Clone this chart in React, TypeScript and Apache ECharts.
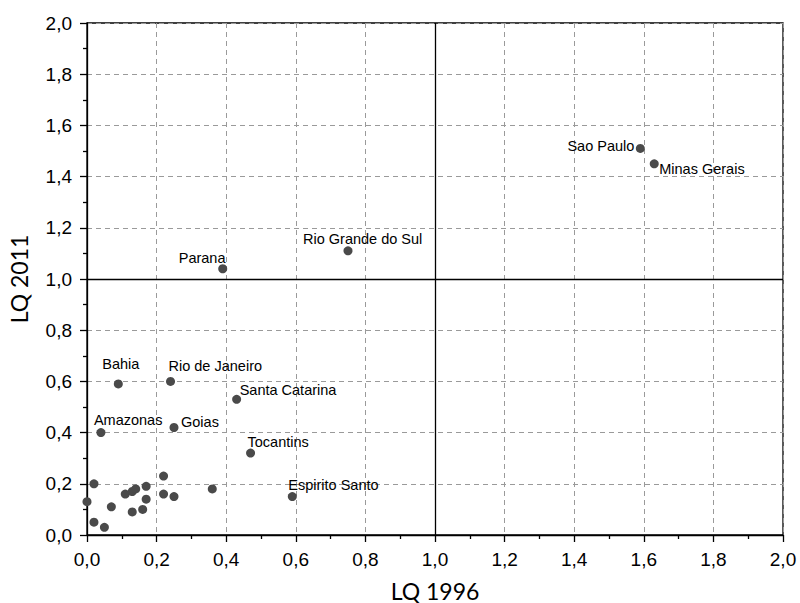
import React, { useEffect, useRef } from "react";
import * as echarts from "echarts";

const names = [
  "Sao Paulo", "Minas Gerais", "Rio Grande do Sul", "Parana", "Bahia", "Rio de Janeiro",
  "Santa Catarina", "Amazonas", "Goias", "Tocantins", "Espirito Santo",
  "", "", "", "", "", "", "", "", "", "", "", "", "", "", "", "",
];
const lq1996 = [
  1.59, 1.63, 0.75, 0.39, 0.09, 0.24,
  0.43, 0.04, 0.25, 0.47, 0.59,
  0.0, 0.02, 0.02, 0.05, 0.07, 0.11, 0.13, 0.14, 0.13, 0.16, 0.17, 0.17, 0.22, 0.22, 0.25, 0.36,
];
const lq2011 = [
  1.51, 1.45, 1.11, 1.04, 0.59, 0.6,
  0.53, 0.4, 0.42, 0.32, 0.15,
  0.13, 0.2, 0.05, 0.03, 0.11, 0.16, 0.17, 0.18, 0.09, 0.1, 0.19, 0.14, 0.23, 0.16, 0.15, 0.18,
];
const axisTicks = [0, 0.2, 0.4, 0.6, 0.8, 1.0, 1.2, 1.4, 1.6, 1.8, 2.0];

// label placement (offset of text anchor from point centre, px)
const labelPlacement: Record<string, [number, number, string]> = {
  "Sao Paulo": [-6, -2, "right"],
  "Minas Gerais": [5, 5, "left"],
  "Rio Grande do Sul": [-45, -12, "left"],
  Parana: [-44, -11, "left"],
  Bahia: [-16, -20, "left"],
  "Rio de Janeiro": [-2, -15, "left"],
  "Santa Catarina": [3, -9, "left"],
  Amazonas: [-7, -13, "left"],
  Goias: [7, -5, "left"],
  Tocantins: [-3, -11, "left"],
  "Espirito Santo": [-4, -12, "left"],
};

const fmt = (v: number) => v.toFixed(1).replace(".", ",");
const SANS = "Arial, 'Liberation Sans', sans-serif";

export default function App() {
  const ref = useRef<HTMLDivElement>(null);
  useEffect(() => {
    if (!ref.current) return;
    const chart = echarts.init(ref.current, null, { renderer: "svg" });
    const symbolSize = 9;
    const half = symbolSize / 2;
    const data = names.map((n, i) => {
      const p = labelPlacement[n];
      const item: any = { name: n, value: [lq1996[i], lq2011[i]] };
      if (p) {
        item.label = {
          show: true,
          formatter: n,
          position: [p[0] + half, p[1] + half],
          align: p[2],
          verticalAlign: "middle",
          color: "#000",
          fontFamily: SANS,
          fontSize: 14.5,
        };
      }
      return item;
    });
    const axisCommon = {
      type: "value",
      min: axisTicks[0],
      max: axisTicks[axisTicks.length - 1],
      interval: 0.2,
      axisLine: { show: true, onZero: false, lineStyle: { color: "#000", width: 1.3 } },
      axisTick: { show: true, inside: false, length: 7, lineStyle: { color: "#000", width: 1.3 } },
      minorTick: { show: true, splitNumber: 2, length: 4, lineStyle: { color: "#000", width: 1.3 } },
      splitLine: { show: true, lineStyle: { color: "#9a9a9a", type: [5, 4], width: 1 } },
      axisLabel: {
        formatter: (v: number) => fmt(v),
        color: "#000",
        fontFamily: SANS,
        fontSize: 19,
      },
      nameLocation: "middle",
      nameTextStyle: { color: "#000", fontFamily: "Lato", fontSize: 23 },
    };
    chart.setOption({
      animation: false,
      backgroundColor: "#fff",
      grid: {
        left: 87,
        right: 17,
        top: 23,
        bottom: 68,
        show: true,
        borderColor: "#000",
        borderWidth: 1.3,
        backgroundColor: "transparent",
        containLabel: false,
        outerBoundsMode: "none",
      },
      xAxis: {
        ...axisCommon,
        name: "LQ 1996",
        nameGap: 44,
        axisLabel: { ...axisCommon.axisLabel, margin: 15 },
      },
      yAxis: {
        ...axisCommon,
        name: "LQ 2011",
        nameGap: 57,
        axisLabel: { ...axisCommon.axisLabel, margin: 15 },
      },
      series: [
        {
          type: "scatter",
          symbol: "circle",
          symbolSize,
          itemStyle: { color: "#4a4a4a", opacity: 1 },
          label: {
            show: false,
            color: "#000",
            fontFamily: SANS,
            fontSize: 14.5,
          },
          data,
          markLine: {
            silent: true,
            symbol: "none",
            label: { show: false },
            lineStyle: { color: "#000", type: "solid", width: 1.3 },
            data: [{ xAxis: 1.0 }, { yAxis: 1.0 }],
          },
        },
      ],
    });
    return () => chart.dispose();
  }, []);
  return <div ref={ref} style={{ width: 800, height: 603, position: "absolute", left: 0, top: 0 }} />;
}
